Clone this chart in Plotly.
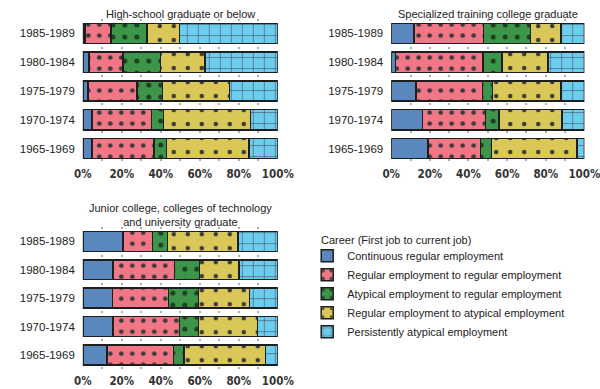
import plotly.graph_objects as go

cohorts = ["1985-1989", "1980-1984", "1975-1979", "1970-1974", "1965-1969"]
series_names = [
    "Continuous regular employment",
    "Regular employment to regular employment",
    "Atypical employment to regular employment",
    "Regular employment to atypical employment",
    "Persistently atypical employment",
]
panel_titles = [
    "High-school graduate or below",
    "Specialized training college graduate",
    "Junior college, colleges of technology<br>and university graduate",
]
legend_title = "Career (First job to current job)"

# values per panel, per series, in cohort order (top to bottom)
hs_continuous = [1.0, 3.3, 2.6, 4.8, 4.8]
hs_reg_reg = [13.4, 17.4, 25.1, 30.3, 31.8]
hs_aty_reg = [18.5, 19.2, 13.1, 6.3, 6.2]
hs_reg_aty = [16.8, 22.8, 34.5, 44.6, 42.5]
hs_aty_aty = [50.3, 37.3, 24.7, 14.0, 14.7]

sp_continuous = [11.8, 2.1, 12.9, 16.1, 19.0]
sp_reg_reg = [36.1, 45.4, 34.3, 32.8, 27.1]
sp_aty_reg = [24.1, 9.8, 5.3, 6.8, 5.9]
sp_reg_aty = [16.0, 23.8, 35.5, 32.6, 44.2]
sp_aty_aty = [12.0, 18.9, 12.0, 11.7, 3.8]

un_continuous = [20.7, 15.6, 15.1, 15.6, 12.5]
un_reg_reg = [15.1, 31.3, 28.9, 33.9, 34.1]
un_aty_reg = [7.7, 13.0, 15.4, 9.9, 5.3]
un_reg_aty = [36.0, 20.1, 26.2, 30.2, 41.8]
un_aty_aty = [20.5, 20.0, 14.4, 10.4, 6.3]

x_ticks = [0, 20, 40, 60, 80, 100]
x_tick_labels = ["0%", "20%", "40%", "60%", "80%", "100%"]

panels = [
    [hs_continuous, hs_reg_reg, hs_aty_reg, hs_reg_aty, hs_aty_aty],
    [sp_continuous, sp_reg_reg, sp_aty_reg, sp_reg_aty, sp_aty_aty],
    [un_continuous, un_reg_reg, un_aty_reg, un_reg_aty, un_aty_aty],
]

colors = ["#5a87be", "#f27786", "#3c9548", "#d9c757", "#6dcdef"]
patterns = [
    dict(shape=""),
    dict(shape=".", size=11, solidity=0.14, fgcolor="#3a3a3a"),
    dict(shape=".", size=12, solidity=0.14, fgcolor="#1f3f22"),
    dict(shape=".", size=14, solidity=0.08, fgcolor="#3a3a3a"),
    dict(shape="+", size=11, solidity=0.1, fgcolor="#3a4a55"),
]

fig = go.Figure()
axis_ids = ["", "2", "3"]
for p, data in enumerate(panels):
    for s, vals in enumerate(data):
        pat = dict(patterns[s])
        if pat["shape"]:
            pat["bgcolor"] = colors[s]
            pat["fillmode"] = "replace"
        fig.add_trace(go.Bar(
            x=vals, y=cohorts, orientation="h",
            name=series_names[s], legendgroup=series_names[s],
            showlegend=(p == 0),
            marker=dict(color=colors[s], pattern=pat,
                        line=dict(color="#1e1e1e", width=1.5)),
            xaxis="x" + axis_ids[p], yaxis="y" + axis_ids[p],
            hoverinfo="x+y+name",
        ))

font_fam = "Liberation Sans, Arial, sans-serif"
tick_font = dict(family="Liberation Sans Narrow, DejaVu Sans Condensed, sans-serif",
                 size=11.5, color="#333333", weight="bold")

xdomains = [[0.138, 0.463], [0.652, 0.974], [0.138, 0.463]]
ydomains = [[0.581, 0.951], [0.581, 0.951], [0.051, 0.416]]

layout = dict(
    width=600, height=389,
    margin=dict(l=0, r=0, t=0, b=0, autoexpand=False),
    paper_bgcolor="white", plot_bgcolor="white",
    barmode="stack", bargap=0.3,
    font=dict(family=font_fam, size=11, color="#222222"),
    showlegend=True,
    legend=dict(
        x=0.512, y=0.38, xanchor="left", yanchor="top",
        traceorder="normal",
        font=dict(family=font_fam, size=11, color="#222222"),
        tracegroupgap=0, itemwidth=30,
        bgcolor="rgba(0,0,0,0)",
    ),
)
for p in range(3):
    suf = axis_ids[p]
    layout["xaxis" + suf] = dict(
        domain=xdomains[p], range=[0, 100], anchor="y" + suf,
        tickvals=x_ticks, ticktext=x_tick_labels,
        tickfont=tick_font, automargin=False,
        ticklabeloverflow="allow",
        ticks="", showline=False, zeroline=False,
        ticklabelstandoff=3,
        showgrid=True, gridcolor="#b0b0b0", gridwidth=1.5,
        griddash="2px,5px",
        minor=dict(dtick=10, tick0=0, showgrid=True, gridcolor="#b0b0b0",
                   griddash="2px,5px", gridwidth=1.5),
        fixedrange=True,
    )
    layout["yaxis" + suf] = dict(
        domain=ydomains[p], anchor="x" + suf, automargin=False,
        categoryorder="array", categoryarray=cohorts,
        autorange="reversed", ticks="", showline=False,
        showgrid=False, zeroline=False,
        tickfont=dict(family=font_fam, size=11.5, color="#222222"),
        ticklabelstandoff=7,
        fixedrange=True,
    )
fig.update_layout(**layout)

title_pos = [(0.3005, 0.985), (0.813, 0.985), (0.3005, 0.485)]
for p, t in enumerate(panel_titles):
    fig.add_annotation(
        text=t, xref="paper", yref="paper",
        x=title_pos[p][0], y=title_pos[p][1],
        xanchor="center", yanchor="top", showarrow=False,
        font=dict(family=font_fam, size=11, color="#222222"),
        align="center",
    )
fig.add_annotation(
    text=legend_title, xref="paper", yref="paper",
    x=0.532, y=0.362, xanchor="left", yanchor="bottom", showarrow=False,
    font=dict(family=font_fam, size=11, color="#222222"),
)

fig.write_html("out.html", config={"displayModeBar": False},
               post_script="document.body.style.margin='0px';")
